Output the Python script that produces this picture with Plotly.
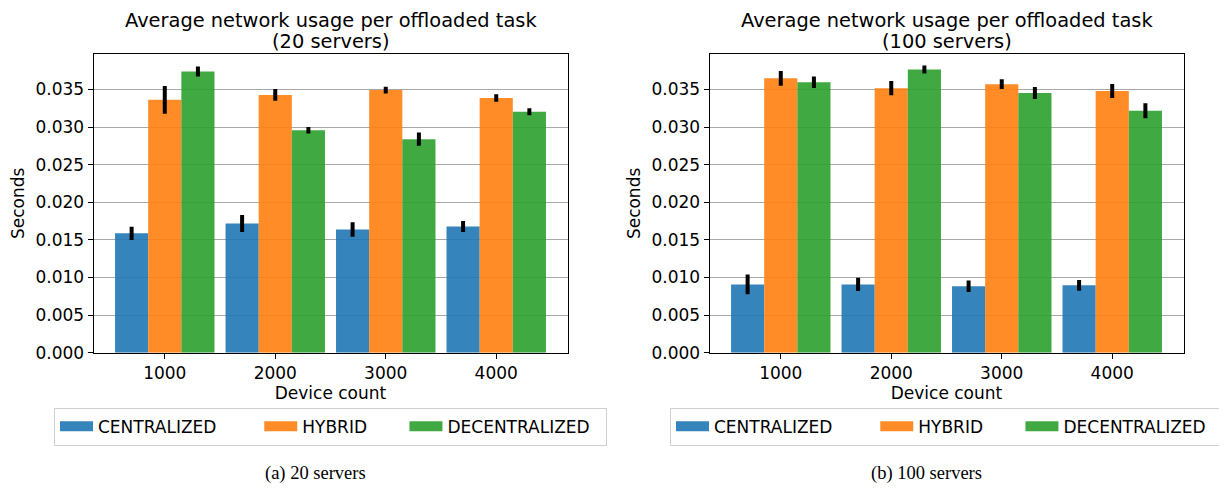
import plotly.graph_objects as go

# ---------------- data ----------------
categories = ["1000", "2000", "3000", "4000"]
series_names = ["CENTRALIZED", "HYBRID", "DECENTRALIZED"]

# 20 servers
c20 = [0.01587, 0.01717, 0.01639, 0.01678]
c20_err = [0.00087, 0.00113, 0.00096, 0.00074]
h20 = [0.03361, 0.03426, 0.03491, 0.03387]
h20_err = [0.00183, 0.00078, 0.00045, 0.00050]
d20 = [0.03739, 0.02957, 0.02839, 0.03204]
d20_err = [0.00067, 0.00043, 0.00089, 0.00046]

# 100 servers
c100 = [0.00909, 0.00909, 0.00883, 0.00896]
c100_err = [0.00130, 0.00089, 0.00076, 0.00070]
h100 = [0.03648, 0.03517, 0.03570, 0.03478]
h100_err = [0.00098, 0.00096, 0.00065, 0.00093]
d100 = [0.03596, 0.03765, 0.03452, 0.03217]
d100_err = [0.00076, 0.00052, 0.00080, 0.00100]

colors = ["rgba(31,119,180,0.9)", "rgba(255,127,14,0.9)", "rgba(44,160,44,0.9)"]
title_line1 = "Average network usage per offloaded task"
title_line2 = ["(20 servers)", "(100 servers)"]
captions = ["(a) 20 servers", "(b) 100 servers"]

W, H = 1227, 488
FONT = "DejaVu Sans"
FS = 17
TFS = 19.4
NB = "\u00a0"
legend_pad = [7, 6, 2]  # trailing non-breaking spaces to mimic column spacing

xpos = list(range(len(categories)))

fig = go.Figure()

panels = [
    ("x", "y", "legend", [(c20, c20_err), (h20, h20_err), (d20, d20_err)]),
    ("x2", "y2", "legend2", [(c100, c100_err), (h100, h100_err), (d100, d100_err)]),
]

for xa, ya, lg, data in panels:
    for name, col, (vals, errs) in zip(series_names, colors, data):
        fig.add_trace(go.Bar(
            x=xpos, y=vals, name=name, xaxis=xa, yaxis=ya,
            marker=dict(color=col, line=dict(width=0)),
            error_y=dict(type="data", array=errs, color="black", thickness=4, width=0),
            showlegend=False,
        ))
    for name, col, pad in zip(series_names, colors, legend_pad):
        fig.add_trace(go.Scatter(
            x=[None], y=[None], mode="lines", name=name + NB * pad, xaxis=xa, yaxis=ya,
            line=dict(color=col, width=12), legend=lg, showlegend=True,
        ))

def px_x(p):
    return p / W

def px_y(p):
    return 1 - p / H

dom1 = [px_x(85.5), px_x(559.5)]
dom2 = [px_x(701.5), px_x(1175.5)]
ydom = [px_y(352), px_y(47)]

xaxis_common = dict(
    range=[-0.645, 3.645], tickvals=xpos, ticktext=categories,
    showline=True, linecolor="black", linewidth=1, mirror=True,
    ticks="outside", ticklen=5, tickcolor="black", showgrid=False, zeroline=False,
    tickfont=dict(size=FS, family=FONT, color="black"),
    title=dict(text="Device count", font=dict(size=FS, family=FONT, color="black"), standoff=2),
)
yaxis_common = dict(
    range=[0, 0.0397], dtick=0.005, tickformat=".3f",
    showline=True, linecolor="black", linewidth=1, mirror=True,
    ticks="outside", ticklen=5, tickcolor="black",
    showgrid=True, gridcolor="#a8a8a8", gridwidth=1, zeroline=False,
    tickfont=dict(size=FS, family=FONT, color="black"),
    title=dict(text="Seconds", font=dict(size=FS, family=FONT, color="black"), standoff=6),
    domain=ydom,
)

legend_common = dict(
    orientation="h", yanchor="top", xanchor="center", y=px_y(408),
    font=dict(size=FS, family=FONT, color="black"),
    bordercolor="#d0d0d0", borderwidth=1, bgcolor="white",
    itemwidth=33,
)

annotations = []
for dom, t2, cap, cx in [(dom1, title_line2[0], captions[0], 307), (dom2, title_line2[1], captions[1], 918)]:
    xc = (dom[0] + dom[1]) / 2
    annotations.append(dict(
        text=title_line1, x=xc, y=px_y(13), xref="paper", yref="paper",
        xanchor="center", yanchor="middle", showarrow=False,
        font=dict(size=TFS, family=FONT, color="black"),
    ))
    annotations.append(dict(
        text=t2, x=xc, y=px_y(34), xref="paper", yref="paper",
        xanchor="center", yanchor="middle", showarrow=False,
        font=dict(size=TFS, family=FONT, color="black"),
    ))
    annotations.append(dict(
        text=cap, x=px_x(cx), y=px_y(475), xref="paper", yref="paper",
        xanchor="center", yanchor="middle", showarrow=False,
        font=dict(size=18.5, family="Liberation Serif", color="black"),
    ))

fig.update_layout(
    width=W, height=H,
    margin=dict(l=0, r=0, t=0, b=0),
    paper_bgcolor="white", plot_bgcolor="white",
    barmode="group", bargap=0.1, bargroupgap=0,
    xaxis=dict(domain=dom1, anchor="y", **xaxis_common),
    yaxis=dict(anchor="x", **yaxis_common),
    xaxis2=dict(domain=dom2, anchor="y2", **xaxis_common),
    yaxis2=dict(anchor="x2", **yaxis_common),
    legend=dict(x=(dom1[0] + dom1[1]) / 2, **legend_common),
    legend2=dict(x=(dom2[0] + dom2[1]) / 2, **legend_common),
    annotations=annotations,
    font=dict(family=FONT, size=FS, color="black"),
)

fig.write_html("out.html")
